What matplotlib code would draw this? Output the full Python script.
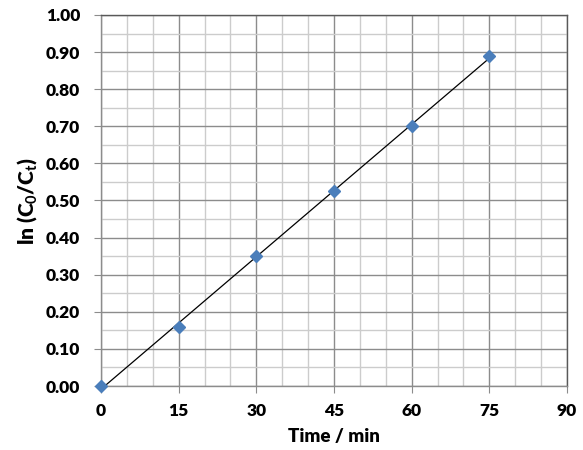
import numpy as np
import matplotlib
matplotlib.use("Agg")
import matplotlib.pyplot as plt
from matplotlib.ticker import MultipleLocator

# data
time_min = [0, 15, 30, 45, 60, 75]
ln_c0_ct = [0.0, 0.16, 0.35, 0.525, 0.70, 0.89]

plt.rcParams['font.family'] = ['Lato', 'DejaVu Sans']
plt.rcParams['font.weight'] = 'bold'
plt.rcParams['mathtext.fontset'] = 'custom'
plt.rcParams['mathtext.rm'] = 'Lato:bold'
plt.rcParams['mathtext.it'] = 'Lato:bold'
plt.rcParams['mathtext.bf'] = 'Lato:bold'

fig = plt.figure(figsize=(5.83, 4.5), dpi=100)
ax = fig.add_axes([0.1732, 0.1422, 0.7994, 0.8245])

# linear trendline
slope, icpt = np.polyfit(time_min, ln_c0_ct, 1)
xs = np.array([time_min[0], time_min[-1]])
ax.plot(xs, slope * xs + icpt, color='black', lw=0.9, zorder=3)
ax.plot(time_min, ln_c0_ct, 'D', color='#4a7ebb', ms=6, zorder=4, clip_on=False)

ax.set_xlim(0, 90)
ax.set_ylim(0, 1.0)
ax.xaxis.set_major_locator(MultipleLocator(15))
ax.xaxis.set_minor_locator(MultipleLocator(5))
ax.yaxis.set_major_locator(MultipleLocator(0.1))
ax.yaxis.set_minor_locator(MultipleLocator(0.05))
ax.set_yticks(np.arange(0, 1.01, 0.1))
ax.set_yticklabels([f'{v:.2f}' for v in np.arange(0, 1.01, 0.1)])

ax.grid(which='major', color='#8c8c8c', lw=1.0)
ax.grid(which='minor', color='#cccccc', lw=1.0)
ax.set_axisbelow(True)

for s in ax.spines.values():
    s.set_color('#595959')
    s.set_linewidth(1.0)
ax.spines['left'].set_color('#8c8c8c')
ax.spines['bottom'].set_color('#8c8c8c')

ax.tick_params(which='major', direction='out', length=5, color='#8c8c8c',
               labelsize=12.5)
ax.tick_params(axis='x', which='major', pad=7)
ax.tick_params(axis='y', which='major', pad=10)
ax.tick_params(which='minor', length=0)
for lab in ax.get_xticklabels() + ax.get_yticklabels():
    lab.set_fontweight('heavy')

ax.set_xlabel('Time / min', fontsize=13.5, fontweight='heavy', labelpad=7)
ax.set_ylabel(r'ln (C$_0$/C$_t$)', fontsize=15, fontweight='heavy', labelpad=5)

fig.savefig('out.png', dpi=100)
